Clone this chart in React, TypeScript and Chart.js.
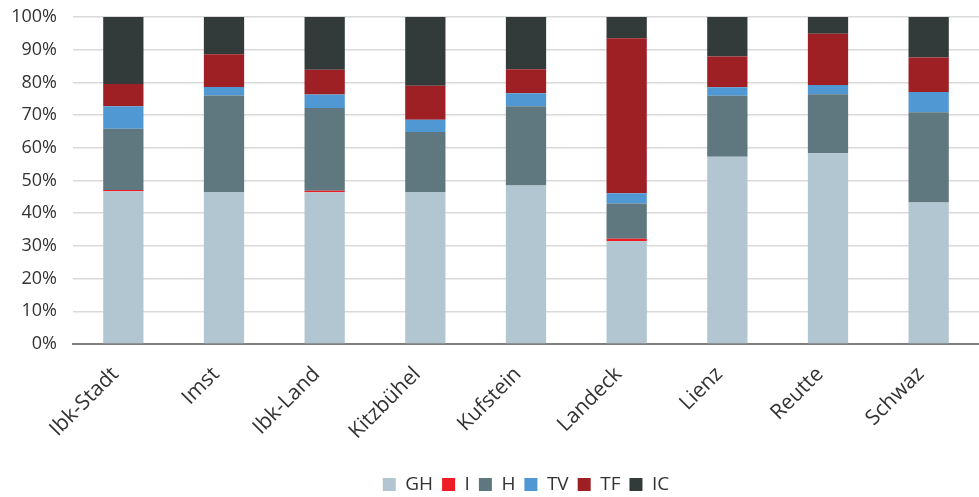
import React, { useEffect, useRef } from "react";
import { Chart, registerables } from "chart.js";

Chart.register(...registerables);

const categories = ["Ibk-Stadt", "Imst", "Ibk-Land", "Kitzbühel", "Kufstein", "Landeck", "Lienz", "Reutte", "Schwaz"];
const seriesNames = ["GH", "I", "H", "TV", "TF", "IC"];
const GH = [46.7, 46.5, 46.4, 46.5, 48.5, 31.4, 57.3, 58.3, 43.3];
const I = [0.4, 0.0, 0.5, 0.0, 0.0, 0.8, 0.0, 0.0, 0.0];
const H = [18.7, 29.5, 25.3, 18.3, 24.2, 10.8, 18.6, 18.1, 27.6];
const TV = [6.9, 2.6, 4.1, 3.8, 4.0, 3.1, 2.6, 2.8, 6.2];
const TF = [6.8, 10.0, 7.6, 10.4, 7.3, 47.4, 9.4, 15.7, 10.5];
const IC = [20.5, 11.4, 16.1, 21.0, 16.0, 6.5, 12.1, 5.1, 12.4];
const colors = ["#b1c6d0", "#ee1c25", "#5f777e", "#4f98d3", "#9e1f24", "#323a3a"];
const yTicks = [0, 10, 20, 30, 40, 50, 60, 70, 80, 90, 100];

export default function App() {
  const ref = useRef<HTMLCanvasElement | null>(null);
  useEffect(() => {
    document.body.style.margin = "0";
    const values = [GH, I, H, TV, TF, IC];
    const chart = new Chart(ref.current as HTMLCanvasElement, {
      type: "bar",
      data: {
        labels: categories,
        datasets: seriesNames.map((name, i) => ({
          label: name,
          data: values[i],
          backgroundColor: colors[i],
          borderWidth: 0,
          barPercentage: 0.4,
          categoryPercentage: 1,
        })),
      },
      options: {
        animation: false,
        responsive: false,
        maintainAspectRatio: false,
        layout: { autoPadding: false, padding: { top: 17, right: 0, left: 0, bottom: -7 } },
        plugins: {
          legend: {
            position: "bottom",
            fullSize: false,
            labels: {
              boxWidth: 13,
              boxHeight: 13,
              padding: 9,
              color: "#333333",
              font: { family: "'Open Sans'", size: 19 },
            },
          },
          tooltip: { enabled: false },
        },
        scales: {
          x: {
            stacked: true,
            grid: { display: false, drawTicks: false },
            border: { display: true, color: "#7f7f7f", width: 2 },
            ticks: {
              minRotation: 45,
              maxRotation: 45,
              padding: 18,
              labelOffset: -8,
              color: "#333333",
              font: { family: "'Open Sans'", size: 21 },
            },
            afterFit: (scale: any) => {
              scale.height = 122;
              scale.paddingLeft = 0;
              scale.paddingRight = 0;
            },
          },
          y: {
            stacked: true,
            min: 0,
            max: 100,
            afterBuildTicks: (scale: any) => {
              scale.ticks = yTicks.map((v) => ({ value: v }));
            },
            grid: { color: "#d9d9d9", lineWidth: 1.5, drawTicks: false },
            border: { display: false },
            ticks: {
              padding: 16,
              color: "#333333",
              font: { family: "'Open Sans'", size: 18 },
              callback: (v: any) => v + "%",
            },
            afterFit: (scale: any) => {
              scale.width = 73;
              scale.paddingTop = 0;
              scale.paddingBottom = 0;
            },
          },
        },
      },
    });
    return () => chart.destroy();
  }, []);
  return (
    <div style={{ width: 979, height: 497, overflow: "hidden" }}>
      <canvas ref={ref} width={979} height={497} style={{ display: "block" }} />
    </div>
  );
}
